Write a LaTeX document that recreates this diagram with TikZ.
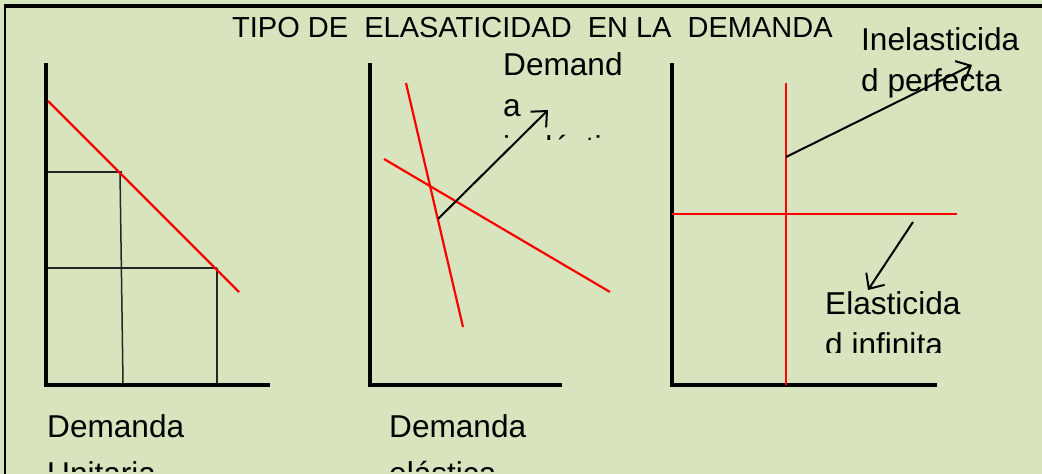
\documentclass[tikz,border=0pt]{standalone}
\usepackage{fontspec}
\setmainfont{Liberation Sans}
\usetikzlibrary{arrows.meta}
\definecolor{bg}{RGB}{215,228,189}
\begin{document}
\begin{tikzpicture}[x=1pt,y=-1pt,
  axis/.style={line width=4.5pt, line join=miter},
  gridln/.style={line width=1.5pt, black!85},
  curve/.style={line width=2.2pt, red},
  pointer/.style={line width=2pt, -{Straight Barb[length=12pt,width=22pt]}},
  lab/.style={anchor=base west, inner sep=0pt, font=\fontsize{31.6}{37}\selectfont},
  ttl/.style={anchor=base west, inner sep=0pt, font=\fontsize{29}{35}\selectfont}]
\fill[bg] (0,0) rectangle (1042,474);
\useasboundingbox (0,0) rectangle (1042,474);
% frame
\draw[line width=4pt] (4,6) -- (1042,6);
\draw[line width=2.2pt] (5,4) -- (5,474);
% title
\node[ttl] (title) at (232,37) {TIPO DE\ \ ELASATICIDAD\ \ EN LA\ \ DEMANDA};
% chart 1
\draw[axis] (46,63) |- (270,385);
\draw[gridln] (48,172) -- (122,172);
\draw[gridln] (48,268) -- (217,268);
\draw[gridln] (120,172) -- (123,383);
\draw[gridln] (217,268) -- (217,383);
\draw[curve] (48,101) -- (239,292);
% chart 2
\draw[axis] (370,63) |- (562,385);
\draw[curve] (406,83) -- (463,327);
\draw[curve] (384,159) -- (610,292);
\coordinate (a1s) at (438,219);
\coordinate (a1e) at (548,110);
\draw[pointer] (a1s) -- (a1e);
% chart 3
\draw[axis] (672,63) |- (937,385);
\draw[curve] (786,83) -- (786,385);
\draw[curve] (672,214) -- (957,214);
\coordinate (a2s) at (786,157);
\coordinate (a2e) at (972,65);
\draw[pointer] (a2s) -- (a2e);
\coordinate (a3s) at (913,222);
\coordinate (a3e) at (868,290);
\draw[pointer] (a3s) -- (a3e);
% labels
\node[lab] (in1) at (861,50) {Inelasticida};
\node[lab] (in2) at (861,91) {d perfecta};
\begin{scope}
\clip (490,30) rectangle (660,139);
\node[lab] (de1) at (503,75) {Demand};
\node[lab] (de2) at (503,116) {a};
\node[lab] (de3) at (503,158) {inelástica};
\end{scope}
\begin{scope}
\clip (800,280) rectangle (1000,352);
\node[lab] (el1) at (825,314) {Elasticida};
\node[lab] (el2) at (825,355) {d infinita};
\end{scope}
\node[lab] (du1) at (47,437) {Demanda};
\node[lab] (dl1) at (389,437) {Demanda};
\begin{scope}
\clip (20,440) rectangle (700,471);
\node[lab] (du2) at (47,484) {Unitaria};
\node[lab] (dl2) at (389,484) {elástica};
\end{scope}
\end{tikzpicture}
\end{document}
